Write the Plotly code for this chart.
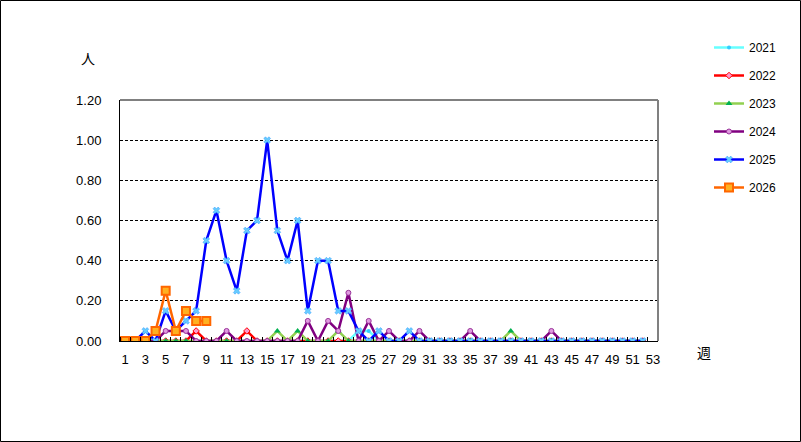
import plotly.graph_objects as go

weeks = list(range(1, 54))
tick_labels = [str(w) for w in range(1, 54, 2)]
y_ticks = [0.0, 0.2, 0.4, 0.6, 0.8, 1.0, 1.2]
y_tick_labels = ["0.00", "0.20", "0.40", "0.60", "0.80", "1.00", "1.20"]

def full(d, n=52):
    v = [0.0] * n
    for k, val in d.items():
        v[k - 1] = val
    return v + [None] * (53 - n)

s2021 = full({24: 0.05, 25: 0.05})
s2022 = full({8: 0.05, 13: 0.05})
s2023 = full({16: 0.05, 18: 0.05, 22: 0.05, 39: 0.05})
s2024 = full({5: 0.05, 6: 0.05, 7: 0.05, 11: 0.05, 19: 0.10, 21: 0.10, 22: 0.05,
              23: 0.24, 25: 0.10, 27: 0.05, 30: 0.05, 35: 0.05, 43: 0.05})
s2025 = full({3: 0.05, 5: 0.15, 6: 0.05, 7: 0.10, 8: 0.15, 9: 0.50, 10: 0.65,
              11: 0.40, 12: 0.25, 13: 0.55, 14: 0.60, 15: 1.00, 16: 0.55, 17: 0.40,
              18: 0.60, 19: 0.15, 20: 0.40, 21: 0.40, 22: 0.15, 23: 0.15, 24: 0.05,
              26: 0.05, 29: 0.05})
s2026 = [0, 0, 0, 0.05, 0.25, 0.05, 0.15, 0.10, 0.10]

series = [
    ("2021", s2021, "#66FFFF", dict(symbol="circle", size=4, color="#33CCFF", line=dict(width=0))),
    ("2022", s2022, "#FF0000", dict(symbol="diamond", size=5, color="#FF99CC", line=dict(width=1, color="#FF0000"))),
    ("2023", s2023, "#92D050", dict(symbol="triangle-up", size=6, color="#00B050", line=dict(width=0))),
    ("2024", s2024, "#800080", dict(symbol="circle", size=5, color="#E099E0", line=dict(width=1, color="#993399"))),
    ("2025", s2025, "#0000FF", dict(symbol="x", size=6, color="#66CCFF", line=dict(width=0.5, color="#3399FF"))),
    ("2026", s2026, "#FF6600", dict(symbol="square", size=8, color="#FFB020", line=dict(width=2, color="#FF6600"))),
]

fig = go.Figure()
for name, vals, col, mk in series:
    fig.add_trace(go.Scatter(
        x=weeks[:len(vals)], y=vals, name=name, mode="lines+markers",
        line=dict(color=col, width=2.5), marker=mk, legendgroup=name,
        connectgaps=False,
    ))

W, H = 801, 442
ml, mr, mt, mb = 120, 143, 100, 101
pw, ph = W - ml - mr, H - mt - mb

font = "Liberation Sans, Noto Sans CJK JP, sans-serif"

fig.update_layout(
    width=W, height=H,
    margin=dict(l=ml, r=mr, t=mt, b=mb, autoexpand=False),
    paper_bgcolor="white", plot_bgcolor="white",
    font=dict(family=font, size=13, color="black"),
    showlegend=True,
    legend=dict(x=(709 - ml) / pw, y=1 + (mt - 33) / ph, xanchor="left", yanchor="top",
                font=dict(size=12), tracegroupgap=9, bgcolor="rgba(0,0,0,0)"),
    xaxis=dict(range=[0.5, 53.5], tickmode="array",
               tickvals=list(range(1, 54, 2)), ticktext=tick_labels,
               ticks="", showgrid=False, zeroline=False,
               showline=True, linecolor="black", linewidth=1,
               ticklabelstandoff=6,
               minor=dict(tickmode="array", tickvals=[w + 0.5 for w in range(0, 53)],
                          ticks="inside", ticklen=4, tickcolor="black", showgrid=False)),
    yaxis=dict(range=[0, 1.2], tickmode="array", tickvals=y_ticks, ticktext=y_tick_labels,
               ticks="", showgrid=True, gridcolor="black", gridwidth=1, griddash="3px,2px",
               zeroline=False, showline=True, linecolor="black", linewidth=1,
               ticklabelstandoff=15),
    shapes=[
        dict(type="line", xref="paper", yref="paper", x0=0, x1=1, y0=1, y1=1,
             line=dict(color="#808080", width=2), layer="above"),
        dict(type="line", xref="paper", yref="paper", x0=1, x1=1, y0=0, y1=1,
             line=dict(color="#808080", width=2), layer="above"),
        dict(type="rect", xref="paper", yref="paper",
             x0=(-ml + 0.5) / pw, x1=(W - ml - 0.5) / pw,
             y0=(-mb + 0.5) / ph, y1=(H - mb - 0.5) / ph,
             line=dict(color="black", width=1), layer="below"),
    ],
    annotations=[
        dict(text="人", xref="paper", yref="paper", x=(88 - ml) / pw, y=1 + (mt - 58) / ph,
             xanchor="center", yanchor="middle",
             showarrow=False, font=dict(size=14, family="Noto Sans CJK JP")),
        dict(text="週", xref="paper", yref="paper", x=(704 - ml) / pw, y=1 - (352 - mt) / ph,
             xanchor="center", yanchor="middle",
             showarrow=False, font=dict(size=14, family="Noto Sans CJK JP")),
    ],
)

fig.write_html("out.html", config={"displayModeBar": False},
               post_script="document.body.style.margin='0';document.body.style.overflow='hidden';")
